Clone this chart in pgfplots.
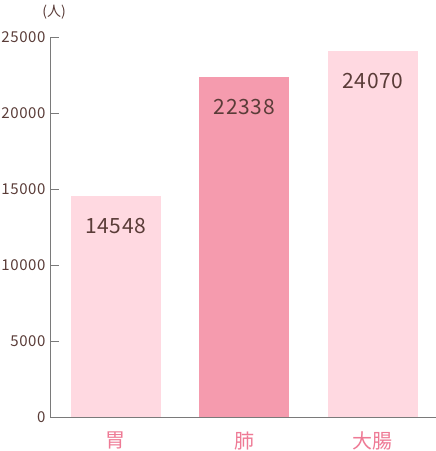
\documentclass[border=0pt]{standalone}
\usepackage{pgfplots}
\pgfplotsset{compat=1.18}
\usepackage{fontspec}
\setmainfont{Noto Sans CJK JP}
\definecolor{lightpink}{HTML}{FFD9E1}
\definecolor{darkpink}{HTML}{F59BAE}
\definecolor{txtbrown}{HTML}{5A3C38}
\definecolor{labpink}{HTML}{EE7A95}
\definecolor{axgray}{HTML}{7A7A7A}
\begin{document}
\begin{tikzpicture}
\path[use as bounding box] (0,0) rectangle (436bp,451bp);
\begin{axis}[
  at={(50bp,34bp)}, anchor=south west,
  scale only axis,
  width=386bp, height=380bp,
  xmin=-0.51, xmax=2.49,
  ymin=0, ymax=25000,
  scaled y ticks=false,
  axis x line*=bottom, axis y line*=left,
  axis line style={axgray, line width=0.8pt},
  ytick={0,5000,10000,15000,20000,25000},
  xtick={0,1,2},
  xticklabels={胃,肺,大腸},
  xtick style={draw=none},
  ytick style={axgray, line width=0.8pt},
  tick align=inside,
  major tick length=9bp,
  /pgf/number format/1000 sep={},
  /pgf/number format/assume math mode=true,
  yticklabel style={font=\addfontfeatures{LetterSpace=4}\fontsize{15bp}{17bp}\selectfont, text=txtbrown, xshift=-1bp},
  xticklabel style={font=\fontsize{20bp}{22bp}\selectfont, text=labpink, yshift=-2bp},
  ybar, bar width=90bp,
  nodes near coords,
  every node near coord/.append style={anchor=center, yshift=-30bp, text=txtbrown, font=\addfontfeatures{LetterSpace=3}\fontsize{21bp}{23bp}\selectfont},
  clip=false,
]
\addplot[fill=lightpink, draw=none, bar shift=0pt] coordinates {(0,14548)};
\addplot[fill=darkpink, draw=none, bar shift=0pt] coordinates {(1,22338)};
\addplot[fill=lightpink, draw=none, bar shift=0pt] coordinates {(2,24070)};
\node[font=\fontsize{14bp}{16bp}\selectfont, text=txtbrown] at (rel axis cs:0,1) [xshift=4bp, yshift=25bp] {(人)};
\end{axis}
\end{tikzpicture}
\end{document}
